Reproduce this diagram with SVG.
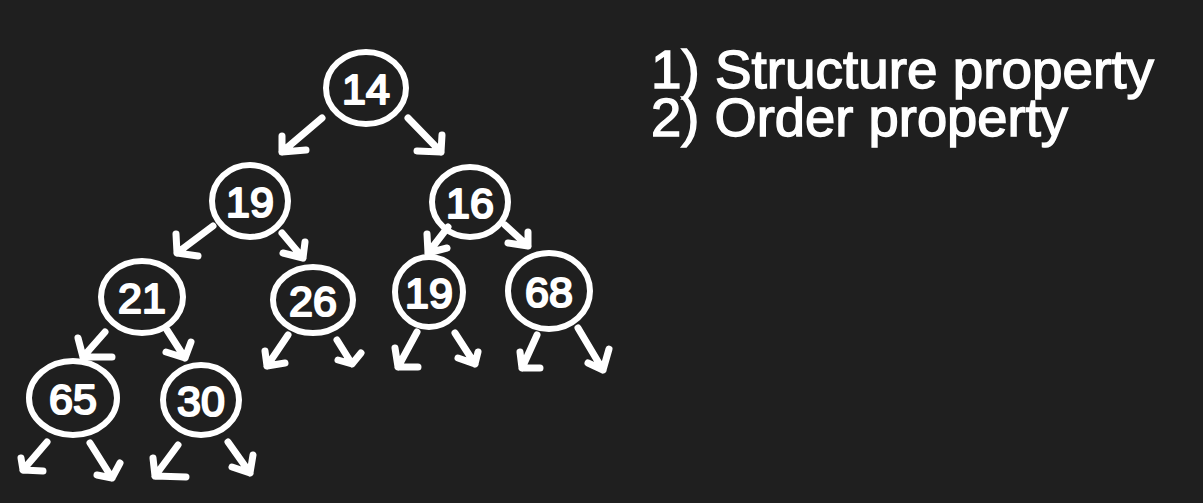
<svg xmlns="http://www.w3.org/2000/svg" width="1203" height="503" viewBox="0 0 1203 503">
<style>
.bg{fill:#1f1f1f}
.node ellipse{fill:none;stroke:#fff;stroke-width:6}
.node text{font-family:"Liberation Sans",Arial,sans-serif;font-size:43px;fill:#fff;stroke:#fff;stroke-width:2.2;stroke-linejoin:round;text-anchor:middle}
.edge{fill:none;stroke:#fff;stroke-width:7;stroke-linecap:round;stroke-linejoin:round}
.label{font-family:"Liberation Sans",Arial,sans-serif;font-size:53px;fill:#fff;stroke:#fff;stroke-width:1.4}
</style>
<rect class="bg" x="0" y="0" width="1203" height="503"/>
<g id="connectors">
<path class="edge" d="M322 118 L282 152 M282 136 L282 152 L306 150"/>
<path class="edge" d="M408 118 L441 152 M442 135 L441 152 L417 151"/>
<path class="edge" d="M213 226 L177 253 M176 234 L177 253 L198 256"/>
<path class="edge" d="M282 233 L303 258 M305 242 L303 258 L283 253"/>
<path class="edge" d="M448 227 L428 253 M427 234 L428 253 L447 248"/>
<path class="edge" d="M505 225 L528 246 M528 232 L528 246 L508 243"/>
<path class="edge" d="M105 332 L83 357 M78 338 L83 357 L112 357"/>
<path class="edge" d="M167 330 L185 358 M191 342 L185 358 L166 352"/>
<path class="edge" d="M288 335 L267 366 M265 351 L267 366 L285 363"/>
<path class="edge" d="M337 340 L352 364 M361 353 L352 364 L338 360"/>
<path class="edge" d="M417 332 L398 367 M395 348 L398 367 L418 367"/>
<path class="edge" d="M455 333 L475 364 M478 352 L475 364 L458 358"/>
<path class="edge" d="M537 335 L522 368 M520 352 L522 368 L540 368"/>
<path class="edge" d="M578 328 L603 370 M609 349 L603 370 L588 363"/>
<path class="edge" d="M47 442 L23 470 M21 458 L23 470 L43 471"/>
<path class="edge" d="M90 443 L112 478 M120 463 L112 478 L97 475"/>
<path class="edge" d="M178 445 L155 476 M153 458 L155 476 L186 477"/>
<path class="edge" d="M228 442 L250 473 M253 455 L250 473 L232 467"/>
</g>
<g id="n14" class="node"><ellipse cx="366" cy="88" rx="40" ry="36"/><text x="366" y="104">14</text></g>
<g id="n19a" class="node"><ellipse cx="250" cy="201" rx="38" ry="36"/><text x="250" y="217">19</text></g>
<g id="n16" class="node"><ellipse cx="470" cy="202" rx="38" ry="35"/><text x="470" y="218">16</text></g>
<g id="n21" class="node"><ellipse cx="142" cy="297" rx="41" ry="36"/><text x="142" y="313">21</text></g>
<g id="n26" class="node"><ellipse cx="313" cy="300" rx="40" ry="33"/><text x="313" y="316">26</text></g>
<g id="n19b" class="node"><ellipse cx="429" cy="292" rx="34" ry="35"/><text x="429" y="308">19</text></g>
<g id="n68" class="node"><ellipse cx="549" cy="291" rx="41" ry="38"/><text x="549" y="307">68</text></g>
<g id="n65" class="node"><ellipse cx="73" cy="398" rx="44" ry="37"/><text x="73" y="414">65</text></g>
<g id="n30" class="node"><ellipse cx="201" cy="400" rx="38" ry="35"/><text x="201" y="416">30</text></g>
<g id="labels">
<text class="label" x="651" y="88" textLength="503" lengthAdjust="spacingAndGlyphs">1) Structure property</text>
<text class="label" x="651" y="136" textLength="417" lengthAdjust="spacingAndGlyphs">2) Order property</text>
</g>
</svg>
